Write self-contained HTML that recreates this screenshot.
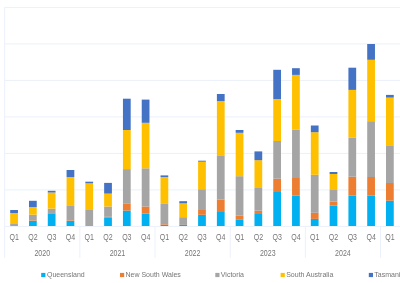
<!DOCTYPE html>
<html><head><meta charset="utf-8"><style>
html,body{margin:0;padding:0;background:#fff;width:400px;height:283px;overflow:hidden}
svg{display:block;will-change:transform}
text{font-family:"Liberation Sans",sans-serif;fill:#767676}
.c{font-size:8.8px;text-anchor:middle}
.l{font-size:7px}
</style></head><body>
<svg width="400" height="283" viewBox="0 0 400 283">
<line x1="4.70" y1="7.40" x2="400" y2="7.40" stroke="#EBF1FA" stroke-width="1"/>
<line x1="4.70" y1="43.90" x2="400" y2="43.90" stroke="#EBF1FA" stroke-width="1"/>
<line x1="4.70" y1="80.40" x2="400" y2="80.40" stroke="#EBF1FA" stroke-width="1"/>
<line x1="4.70" y1="116.90" x2="400" y2="116.90" stroke="#EBF1FA" stroke-width="1"/>
<line x1="4.70" y1="153.40" x2="400" y2="153.40" stroke="#EBF1FA" stroke-width="1"/>
<line x1="4.70" y1="189.90" x2="400" y2="189.90" stroke="#EBF1FA" stroke-width="1"/>
<line x1="4.70" y1="226.40" x2="400" y2="226.40" stroke="#EBF1FA" stroke-width="1"/>
<line x1="4.70" y1="7.4" x2="4.70" y2="257.8" stroke="#EBF1FA" stroke-width="1"/>
<line x1="79.86" y1="226.4" x2="79.86" y2="257.8" stroke="#EBF1FA" stroke-width="1"/>
<line x1="155.02" y1="226.4" x2="155.02" y2="257.8" stroke="#EBF1FA" stroke-width="1"/>
<line x1="230.18" y1="226.4" x2="230.18" y2="257.8" stroke="#EBF1FA" stroke-width="1"/>
<line x1="305.34" y1="226.4" x2="305.34" y2="257.8" stroke="#EBF1FA" stroke-width="1"/>
<line x1="380.50" y1="226.4" x2="380.50" y2="257.8" stroke="#EBF1FA" stroke-width="1"/>
<rect x="10.20" y="224.00" width="7.75" height="2.00" fill="#A5A5A5"/>
<rect x="10.20" y="213.00" width="7.75" height="11.00" fill="#FFC000"/>
<rect x="10.20" y="210.00" width="7.75" height="3.00" fill="#4472C4"/>
<rect x="28.99" y="220.90" width="7.75" height="5.10" fill="#00B0F0"/>
<rect x="28.99" y="220.30" width="7.75" height="0.60" fill="#ED7D31"/>
<rect x="28.99" y="214.70" width="7.75" height="5.60" fill="#A5A5A5"/>
<rect x="28.99" y="207.00" width="7.75" height="7.70" fill="#FFC000"/>
<rect x="28.99" y="200.80" width="7.75" height="6.20" fill="#4472C4"/>
<rect x="47.78" y="213.30" width="7.75" height="12.70" fill="#00B0F0"/>
<rect x="47.78" y="208.60" width="7.75" height="4.70" fill="#A5A5A5"/>
<rect x="47.78" y="192.50" width="7.75" height="16.10" fill="#FFC000"/>
<rect x="47.78" y="190.80" width="7.75" height="1.70" fill="#4472C4"/>
<rect x="66.57" y="220.90" width="7.75" height="5.10" fill="#00B0F0"/>
<rect x="66.57" y="220.30" width="7.75" height="0.60" fill="#ED7D31"/>
<rect x="66.57" y="205.30" width="7.75" height="15.00" fill="#A5A5A5"/>
<rect x="66.57" y="177.00" width="7.75" height="28.30" fill="#FFC000"/>
<rect x="66.57" y="170.00" width="7.75" height="7.00" fill="#4472C4"/>
<rect x="85.36" y="210.00" width="7.75" height="16.00" fill="#A5A5A5"/>
<rect x="85.36" y="183.30" width="7.75" height="26.70" fill="#FFC000"/>
<rect x="85.36" y="181.70" width="7.75" height="1.60" fill="#4472C4"/>
<rect x="104.15" y="217.80" width="7.75" height="8.20" fill="#00B0F0"/>
<rect x="104.15" y="216.80" width="7.75" height="1.00" fill="#ED7D31"/>
<rect x="104.15" y="206.50" width="7.75" height="10.30" fill="#A5A5A5"/>
<rect x="104.15" y="193.60" width="7.75" height="12.90" fill="#FFC000"/>
<rect x="104.15" y="182.90" width="7.75" height="10.70" fill="#4472C4"/>
<rect x="122.94" y="210.60" width="7.75" height="15.40" fill="#00B0F0"/>
<rect x="122.94" y="203.80" width="7.75" height="6.80" fill="#ED7D31"/>
<rect x="122.94" y="169.10" width="7.75" height="34.70" fill="#A5A5A5"/>
<rect x="122.94" y="130.00" width="7.75" height="39.10" fill="#FFC000"/>
<rect x="122.94" y="98.70" width="7.75" height="31.30" fill="#4472C4"/>
<rect x="141.73" y="213.50" width="7.75" height="12.50" fill="#00B0F0"/>
<rect x="141.73" y="206.50" width="7.75" height="7.00" fill="#ED7D31"/>
<rect x="141.73" y="168.30" width="7.75" height="38.20" fill="#A5A5A5"/>
<rect x="141.73" y="122.80" width="7.75" height="45.50" fill="#FFC000"/>
<rect x="141.73" y="99.60" width="7.75" height="23.20" fill="#4472C4"/>
<rect x="160.52" y="225.00" width="7.75" height="1.00" fill="#00B0F0"/>
<rect x="160.52" y="224.30" width="7.75" height="0.70" fill="#ED7D31"/>
<rect x="160.52" y="203.90" width="7.75" height="20.40" fill="#A5A5A5"/>
<rect x="160.52" y="177.00" width="7.75" height="26.90" fill="#FFC000"/>
<rect x="160.52" y="175.40" width="7.75" height="1.60" fill="#4472C4"/>
<rect x="179.31" y="225.00" width="7.75" height="1.00" fill="#00B0F0"/>
<rect x="179.31" y="224.90" width="7.75" height="0.10" fill="#ED7D31"/>
<rect x="179.31" y="217.20" width="7.75" height="7.70" fill="#A5A5A5"/>
<rect x="179.31" y="203.30" width="7.75" height="13.90" fill="#FFC000"/>
<rect x="179.31" y="201.20" width="7.75" height="2.10" fill="#4472C4"/>
<rect x="198.10" y="214.80" width="7.75" height="11.20" fill="#00B0F0"/>
<rect x="198.10" y="210.00" width="7.75" height="4.80" fill="#ED7D31"/>
<rect x="198.10" y="189.20" width="7.75" height="20.80" fill="#A5A5A5"/>
<rect x="198.10" y="161.70" width="7.75" height="27.50" fill="#FFC000"/>
<rect x="198.10" y="160.70" width="7.75" height="1.00" fill="#4472C4"/>
<rect x="216.89" y="212.00" width="7.75" height="14.00" fill="#00B0F0"/>
<rect x="216.89" y="199.60" width="7.75" height="12.40" fill="#ED7D31"/>
<rect x="216.89" y="155.30" width="7.75" height="44.30" fill="#A5A5A5"/>
<rect x="216.89" y="101.10" width="7.75" height="54.20" fill="#FFC000"/>
<rect x="216.89" y="94.00" width="7.75" height="7.10" fill="#4472C4"/>
<rect x="235.68" y="219.80" width="7.75" height="6.20" fill="#00B0F0"/>
<rect x="235.68" y="215.70" width="7.75" height="4.10" fill="#ED7D31"/>
<rect x="235.68" y="176.20" width="7.75" height="39.50" fill="#A5A5A5"/>
<rect x="235.68" y="132.80" width="7.75" height="43.40" fill="#FFC000"/>
<rect x="235.68" y="130.00" width="7.75" height="2.80" fill="#4472C4"/>
<rect x="254.47" y="214.00" width="7.75" height="12.00" fill="#00B0F0"/>
<rect x="254.47" y="210.70" width="7.75" height="3.30" fill="#ED7D31"/>
<rect x="254.47" y="188.00" width="7.75" height="22.70" fill="#A5A5A5"/>
<rect x="254.47" y="160.20" width="7.75" height="27.80" fill="#FFC000"/>
<rect x="254.47" y="151.40" width="7.75" height="8.80" fill="#4472C4"/>
<rect x="273.26" y="192.00" width="7.75" height="34.00" fill="#00B0F0"/>
<rect x="273.26" y="178.70" width="7.75" height="13.30" fill="#ED7D31"/>
<rect x="273.26" y="141.00" width="7.75" height="37.70" fill="#A5A5A5"/>
<rect x="273.26" y="99.00" width="7.75" height="42.00" fill="#FFC000"/>
<rect x="273.26" y="69.80" width="7.75" height="29.20" fill="#4472C4"/>
<rect x="292.05" y="195.50" width="7.75" height="30.50" fill="#00B0F0"/>
<rect x="292.05" y="178.00" width="7.75" height="17.50" fill="#ED7D31"/>
<rect x="292.05" y="129.50" width="7.75" height="48.50" fill="#A5A5A5"/>
<rect x="292.05" y="74.90" width="7.75" height="54.60" fill="#FFC000"/>
<rect x="292.05" y="68.20" width="7.75" height="6.70" fill="#4472C4"/>
<rect x="310.84" y="218.90" width="7.75" height="7.10" fill="#00B0F0"/>
<rect x="310.84" y="212.80" width="7.75" height="6.10" fill="#ED7D31"/>
<rect x="310.84" y="174.80" width="7.75" height="38.00" fill="#A5A5A5"/>
<rect x="310.84" y="132.20" width="7.75" height="42.60" fill="#FFC000"/>
<rect x="310.84" y="125.50" width="7.75" height="6.70" fill="#4472C4"/>
<rect x="329.63" y="205.60" width="7.75" height="20.40" fill="#00B0F0"/>
<rect x="329.63" y="201.50" width="7.75" height="4.10" fill="#ED7D31"/>
<rect x="329.63" y="190.00" width="7.75" height="11.50" fill="#A5A5A5"/>
<rect x="329.63" y="174.00" width="7.75" height="16.00" fill="#FFC000"/>
<rect x="329.63" y="172.00" width="7.75" height="2.00" fill="#4472C4"/>
<rect x="348.42" y="195.50" width="7.75" height="30.50" fill="#00B0F0"/>
<rect x="348.42" y="176.70" width="7.75" height="18.80" fill="#ED7D31"/>
<rect x="348.42" y="137.80" width="7.75" height="38.90" fill="#A5A5A5"/>
<rect x="348.42" y="89.90" width="7.75" height="47.90" fill="#FFC000"/>
<rect x="348.42" y="67.70" width="7.75" height="22.20" fill="#4472C4"/>
<rect x="367.21" y="195.50" width="7.75" height="30.50" fill="#00B0F0"/>
<rect x="367.21" y="177.00" width="7.75" height="18.50" fill="#ED7D31"/>
<rect x="367.21" y="121.20" width="7.75" height="55.80" fill="#A5A5A5"/>
<rect x="367.21" y="59.80" width="7.75" height="61.40" fill="#FFC000"/>
<rect x="367.21" y="44.00" width="7.75" height="15.80" fill="#4472C4"/>
<rect x="386.00" y="200.70" width="7.75" height="25.30" fill="#00B0F0"/>
<rect x="386.00" y="183.00" width="7.75" height="17.70" fill="#ED7D31"/>
<rect x="386.00" y="145.30" width="7.75" height="37.70" fill="#A5A5A5"/>
<rect x="386.00" y="97.60" width="7.75" height="47.70" fill="#FFC000"/>
<rect x="386.00" y="94.90" width="7.75" height="2.70" fill="#4472C4"/>
<text transform="matrix(0.8 0 0 1 14.09 240.1)" class="c">Q1</text>
<text transform="matrix(0.8 0 0 1 32.88 240.1)" class="c">Q2</text>
<text transform="matrix(0.8 0 0 1 51.67 240.1)" class="c">Q3</text>
<text transform="matrix(0.8 0 0 1 70.47 240.1)" class="c">Q4</text>
<text transform="matrix(0.8 0 0 1 89.25 240.1)" class="c">Q1</text>
<text transform="matrix(0.8 0 0 1 108.05 240.1)" class="c">Q2</text>
<text transform="matrix(0.8 0 0 1 126.83 240.1)" class="c">Q3</text>
<text transform="matrix(0.8 0 0 1 145.62 240.1)" class="c">Q4</text>
<text transform="matrix(0.8 0 0 1 164.41 240.1)" class="c">Q1</text>
<text transform="matrix(0.8 0 0 1 183.20 240.1)" class="c">Q2</text>
<text transform="matrix(0.8 0 0 1 201.99 240.1)" class="c">Q3</text>
<text transform="matrix(0.8 0 0 1 220.78 240.1)" class="c">Q4</text>
<text transform="matrix(0.8 0 0 1 239.57 240.1)" class="c">Q1</text>
<text transform="matrix(0.8 0 0 1 258.37 240.1)" class="c">Q2</text>
<text transform="matrix(0.8 0 0 1 277.15 240.1)" class="c">Q3</text>
<text transform="matrix(0.8 0 0 1 295.94 240.1)" class="c">Q4</text>
<text transform="matrix(0.8 0 0 1 314.73 240.1)" class="c">Q1</text>
<text transform="matrix(0.8 0 0 1 333.52 240.1)" class="c">Q2</text>
<text transform="matrix(0.8 0 0 1 352.31 240.1)" class="c">Q3</text>
<text transform="matrix(0.8 0 0 1 371.10 240.1)" class="c">Q4</text>
<text transform="matrix(0.8 0 0 1 389.89 240.1)" class="c">Q1</text>
<text transform="matrix(0.8 0 0 1 42.28 255.8)" class="c">2020</text>
<text transform="matrix(0.8 0 0 1 117.44 255.8)" class="c">2021</text>
<text transform="matrix(0.8 0 0 1 192.60 255.8)" class="c">2022</text>
<text transform="matrix(0.8 0 0 1 267.76 255.8)" class="c">2023</text>
<text transform="matrix(0.8 0 0 1 342.92 255.8)" class="c">2024</text>
<rect x="41.2" y="272.9" width="4.2" height="4.2" fill="#00B0F0"/>
<text x="47" y="277.3" class="l">Queensland</text>
<rect x="120" y="272.9" width="4.2" height="4.2" fill="#ED7D31"/>
<text x="125.5" y="277.3" class="l">New South Wales</text>
<rect x="215.3" y="272.9" width="4.2" height="4.2" fill="#A5A5A5"/>
<text x="220.8" y="277.3" class="l">Victoria</text>
<rect x="280.6" y="272.9" width="4.2" height="4.2" fill="#FFC000"/>
<text x="286.2" y="277.3" class="l">South Australia</text>
<rect x="368.8" y="272.9" width="4.2" height="4.2" fill="#4472C4"/>
<text x="374.3" y="277.3" class="l">Tasmania</text>
</svg>
</body></html>
